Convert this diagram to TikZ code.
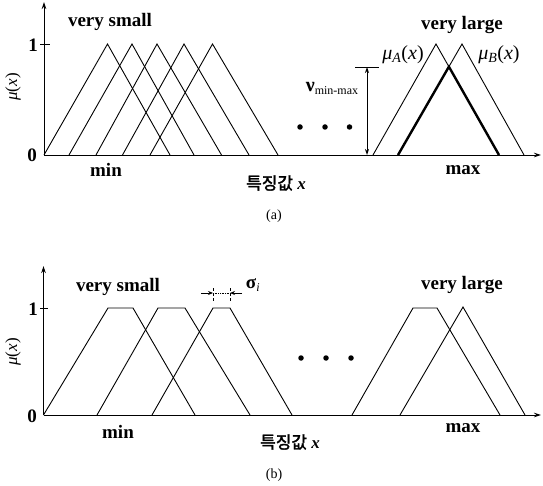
\documentclass[tikz,border=0pt]{standalone}
\usepackage{fontspec}
\setmainfont{Liberation Serif}
\newfontfamily\kr[AutoFakeBold=2]{Noto Sans CJK KR}
\usetikzlibrary{arrows.meta}
\begin{document}
\begin{tikzpicture}[x=1pt,y=-1pt,
  mf/.style={line width=0.9pt, line join=miter},
  heavy/.style={line width=2.4pt, line join=miter},
  axisline/.style={line width=0.9pt,-{Stealth[length=7pt,width=4.5pt]}},
  dimarrow/.style={line width=0.9pt,{Stealth[length=6pt,width=4pt]}-{Stealth[length=6pt,width=4pt]}},
  onearrow/.style={line width=0.9pt,-{Stealth[length=5pt,width=4pt]}},
  big/.style={font=\bfseries\fontsize{19}{20}\selectfont, inner sep=0pt},
  midtxt/.style={font=\fontsize{17}{18}\selectfont, inner sep=0pt},
  mulbl/.style={font=\fontsize{20}{21}\selectfont, inner sep=0pt},
  krl/.style={font=\fontsize{17}{18}\selectfont, inner sep=0pt},
  captxt/.style={font=\fontsize{14}{15}\selectfont, inner sep=0pt},
  dotm/.style={circle, fill, inner sep=0pt, minimum size=5.5pt}]
\useasboundingbox (0,0) rectangle (543,486);

% ================= panel (a) =================
\coordinate (oa) at (44,155);
\coordinate (ya) at (44,2);
\coordinate (xa) at (541,155);
\draw[axisline] (oa) -- (ya);
\draw[axisline] (oa) -- (xa);
\draw[mf] (40,44) -- (50,44);

% small triangles
\draw[mf] (44,155) -- (107.5,44) -- (170,155);
\draw[mf] (69,155) -- (132,44) -- (194,155);
\draw[mf] (96,155) -- (157,44) -- (221.5,155);
\draw[mf] (122.5,155) -- (184,44) -- (249,155);
\draw[mf] (150,155) -- (212.5,44) -- (278,155);

% large triangles
\draw[mf] (373,155) -- (436,44) -- (499,155);
\draw[mf] (398,155) -- (462,44) -- (524,155);
\draw[heavy] (398,155) -- (448.9,66.7) -- (499,155);

% nu min-max dimension
\coordinate (nutop) at (367,67);
\coordinate (nubot) at (367,155);
\draw[mf] (355,67) -- (379,67);
\draw[dimarrow] (nutop) -- (nubot);
\node[midtxt] (nu) at (332,88) {{\fontsize{20}{20}\selectfont\bfseries ν}\raisebox{-3pt}{\fontsize{12}{12}\selectfont min-max}};

% dots
\node[dotm] (da1) at (300,127) {};
\node[dotm] (da2) at (325,127) {};
\node[dotm] (da3) at (349.5,127) {};

% labels
\node[big] (vsa) at (110,22) {very small};
\node[big] (vla) at (462,25) {very large};
\node[big, anchor=east] (onea) at (38,45) {1};
\node[big, anchor=east] (zeroa) at (37,155) {0};
\node[midtxt, rotate=90] (mua) at (13,87) {\textit{μ}(\textit{x})};
\node[big] (mina) at (106,170) {min};
\node[big] (maxa) at (463,170) {max};
\node[krl] (fxa) at (276,183) {{\kr\bfseries 특징값} \textit{\bfseries x}};
\node[captxt] (capa) at (274,216) {(a)};
\node[mulbl] (mA) at (403,55) {\textit{μ}\textsubscript{\textit{A}}(\textit{x})};
\node[mulbl] (mB) at (499,55) {\textit{μ}\textsubscript{\textit{B}}(\textit{x})};

% ================= panel (b) =================
\coordinate (ob) at (43.5,415);
\coordinate (yb) at (43.5,266);
\coordinate (xb) at (541,415);
\draw[axisline] (ob) -- (yb);
\draw[axisline] (ob) -- (xb);
\draw[mf] (40,308) -- (48,308);

% trapezoids
\draw[mf] (43.5,415) -- (108,308) -- (133,308) -- (195,415);
\draw[mf] (97,415) -- (158,308) -- (185,308) -- (250,415);
\draw[mf] (152,415) -- (213,308) -- (230,308) -- (292,415);
\draw[mf] (352,415) -- (413,308) -- (437,308) -- (500,415);
\draw[mf] (400,415) -- (463,307) -- (525,415);

% sigma dimension
\coordinate (sl) at (213,293);
\coordinate (sr) at (230,293);
\coordinate (slo) at (201,293);
\coordinate (sro) at (242,293);
\draw[densely dashed, line width=0.6pt] (213,288) -- (213,302);
\draw[densely dashed, line width=0.6pt] (230,288) -- (230,302);
\draw[onearrow] (slo) -- (sl);
\draw[onearrow] (sro) -- (sr);
\draw[densely dotted, line width=0.7pt] (sl) -- (sr);
\node[midtxt] (sig) at (253,285) {{\bfseries\fontsize{19}{19}\selectfont σ}\textsubscript{\textit{i}}};

% dots
\node[dotm] (db1) at (301,358) {};
\node[dotm] (db2) at (326,358) {};
\node[dotm] (db3) at (351,358) {};

% labels
\node[big] (vsb) at (118,287) {very small};
\node[big] (vlb) at (462,285) {very large};
\node[big, anchor=east] (oneb) at (38,309) {1};
\node[big, anchor=east] (zerob) at (37,416) {0};
\node[midtxt, rotate=90] (mub) at (13,352) {\textit{μ}(\textit{x})};
\node[big] (minb) at (118,432) {min};
\node[big] (maxb) at (463,428) {max};
\node[krl] (fxb) at (290,442) {{\kr\bfseries 특징값} \textit{\bfseries x}};
\node[captxt] (capb) at (274,475) {(b)};
\end{tikzpicture}
\end{document}
